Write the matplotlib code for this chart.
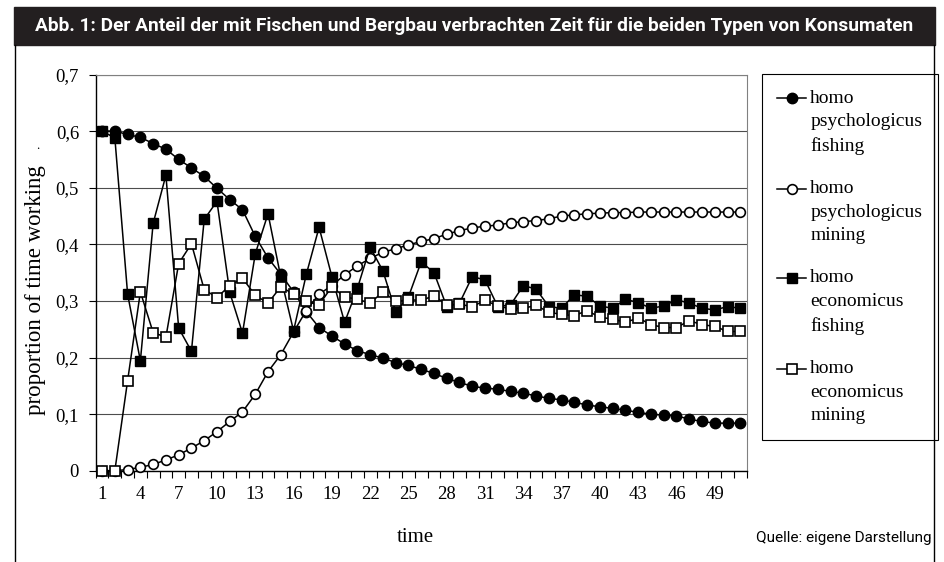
import numpy as np
import matplotlib
matplotlib.use("Agg")
import matplotlib.pyplot as plt
from matplotlib.patches import Rectangle
from matplotlib.lines import Line2D

# values, one per time step (1..51)
time = np.arange(1, 52)

psych_fishing = [0.600, 0.600, 0.594, 0.589, 0.578, 0.568, 0.550, 0.535, 0.520, 0.499,
                 0.479, 0.461, 0.414, 0.376, 0.347, 0.316, 0.281, 0.253, 0.238, 0.224,
                 0.212, 0.205, 0.199, 0.191, 0.186, 0.179, 0.172, 0.163, 0.156, 0.149,
                 0.146, 0.144, 0.140, 0.137, 0.132, 0.128, 0.125, 0.121, 0.116, 0.113,
                 0.110, 0.107, 0.103, 0.100, 0.098, 0.097, 0.091, 0.087, 0.084, 0.084,
                 0.084]
psych_mining = [0.000, 0.000, 0.002, 0.006, 0.011, 0.019, 0.028, 0.040, 0.053, 0.069,
                0.087, 0.104, 0.135, 0.175, 0.205, 0.245, 0.283, 0.312, 0.327, 0.346,
                0.362, 0.375, 0.386, 0.392, 0.399, 0.405, 0.410, 0.418, 0.424, 0.429,
                0.432, 0.434, 0.438, 0.440, 0.442, 0.445, 0.450, 0.452, 0.454, 0.455,
                0.456, 0.456, 0.457, 0.457, 0.457, 0.457, 0.457, 0.457, 0.457, 0.457,
                0.457]
econ_fishing = [0.600, 0.588, 0.312, 0.194, 0.437, 0.522, 0.252, 0.211, 0.444, 0.476,
                0.315, 0.243, 0.383, 0.454, 0.342, 0.247, 0.347, 0.430, 0.343, 0.262,
                0.322, 0.395, 0.353, 0.281, 0.307, 0.369, 0.350, 0.290, 0.296, 0.343,
                0.337, 0.290, 0.293, 0.327, 0.321, 0.290, 0.287, 0.311, 0.308, 0.291,
                0.287, 0.303, 0.297, 0.287, 0.291, 0.302, 0.296, 0.287, 0.284, 0.290,
                0.287]
econ_mining = [0.000, 0.000, 0.159, 0.316, 0.244, 0.236, 0.366, 0.401, 0.320, 0.306,
               0.327, 0.340, 0.310, 0.296, 0.325, 0.312, 0.299, 0.293, 0.325, 0.307,
               0.303, 0.296, 0.316, 0.299, 0.302, 0.301, 0.309, 0.293, 0.294, 0.290,
               0.301, 0.291, 0.286, 0.287, 0.292, 0.280, 0.276, 0.274, 0.283, 0.271,
               0.268, 0.262, 0.270, 0.258, 0.253, 0.253, 0.265, 0.258, 0.255, 0.246,
               0.246]

labels = ["homo\npsychologicus\nfishing", "homo\npsychologicus\nmining",
          "homo\neconomicus\nfishing", "homo\neconomicus\nmining"]
x_ticks = list(range(1, 52, 3))
y_ticks = [0, 0.1, 0.2, 0.3, 0.4, 0.5, 0.6, 0.7]
y_ticklabels = ["0", "0,1", "0,2", "0,3", "0,4", "0,5", "0,6", "0,7"]

title = "Abb. 1: Der Anteil der mit Fischen und Bergbau verbrachten Zeit für die beiden Typen von Konsumaten"
source = "Quelle: eigene Darstellung"

W, H = 944, 562
serif = ["Liberation Serif", "DejaVu Serif"]
sans = ["Roboto", "DejaVu Sans"]


def fx(px):
    return px / W


def fy(py):
    return 1 - py / H


fig = plt.figure(figsize=(W / 100, H / 100), dpi=100)

# black title bar and thin side frame
fig.patches.append(Rectangle((fx(14), fy(45)), fx(935) - fx(14), fy(7) - fy(45),
                             transform=fig.transFigure, color="#231f20", zorder=0))
fig.lines.append(Line2D([fx(15), fx(15)], [0, fy(45)], transform=fig.transFigure,
                        color="black", lw=1))
fig.lines.append(Line2D([fx(934), fx(934)], [0, fy(45)], transform=fig.transFigure,
                        color="black", lw=1))
fig.text(fx(474), fy(26), title, color="white", fontsize=13.8, fontweight="bold",
         family=sans, ha="center", va="center")

ax = fig.add_axes([fx(95.7), fy(470.7), fx(746.7) - fx(95.7), fy(74.5) - fy(470.7)])

ax.plot(time, psych_fishing, color="black", lw=1.1, marker="o", ms=7.5,
        mfc="black", mec="black", clip_on=False, zorder=3, label=labels[0])
ax.plot(time, psych_mining, color="black", lw=1.1, marker="o", ms=7,
        mfc="white", mec="black", mew=1.2, clip_on=False, zorder=4, label=labels[1])
ax.plot(time, econ_fishing, color="black", lw=1.1, marker="s", ms=7,
        mfc="black", mec="black", clip_on=False, zorder=5, label=labels[2])
ax.plot(time, econ_mining, color="black", lw=1.1, marker="s", ms=6.5,
        mfc="white", mec="black", mew=1.2, clip_on=False, zorder=6, label=labels[3])

ax.set_xlim(0.5, 51.5)
ax.set_ylim(0, 0.7)
ax.set_xticks(x_ticks)
ax.set_xticklabels([str(t) for t in x_ticks], family=serif, fontsize=13.5)
ax.set_xticks(np.arange(0.5, 52, 1), minor=True)
ax.tick_params(axis="x", which="major", length=0, pad=11)
ax.tick_params(axis="x", which="minor", length=5, width=0.8, direction="out")
ax.set_yticks(y_ticks)
ax.set_yticklabels(y_ticklabels, family=serif, fontsize=13.5)
ax.tick_params(axis="y", length=5, width=0.8, direction="out", pad=7)

ax.yaxis.grid(True, color="#4d4d4d", lw=0.8)
ax.set_axisbelow(True)
for side in ["top", "right"]:
    ax.spines[side].set_color("#808080")
    ax.spines[side].set_linewidth(0.8)
for side in ["left", "bottom"]:
    ax.spines[side].set_color("black")
    ax.spines[side].set_linewidth(1)

fig.text(fx(415), fy(537), "time", family=serif, fontsize=15, ha="center", va="center")
fig.text(fx(36), fy(290), "proportion of time working", family=serif, fontsize=16.5,
         rotation=90, ha="center", va="center")
fig.text(fx(38), fy(146), ".", family=serif, fontsize=9, ha="center", va="center")
fig.text(fx(932), fy(538), source, family=sans, fontsize=11, ha="right", va="center")

leg = ax.legend(loc="upper left", bbox_to_anchor=(fx(761.7), fy(74)),
                bbox_transform=fig.transFigure, borderaxespad=0, frameon=True,
                fancybox=False, edgecolor="black", framealpha=1,
                prop={"family": serif, "size": 14}, handlelength=1.5,
                handleheight=1.3, handletextpad=0.2, labelspacing=1.3,
                borderpad=0.8)
leg.get_frame().set_linewidth(0.8)
for t in leg.get_texts():
    t.set_linespacing(1.5)
# put the marker next to the first line of each label, as in the original
for col in leg._legend_handle_box.get_children():
    for item in col.get_children():
        item.align = "top"

fig.savefig("out.png", dpi=100)
